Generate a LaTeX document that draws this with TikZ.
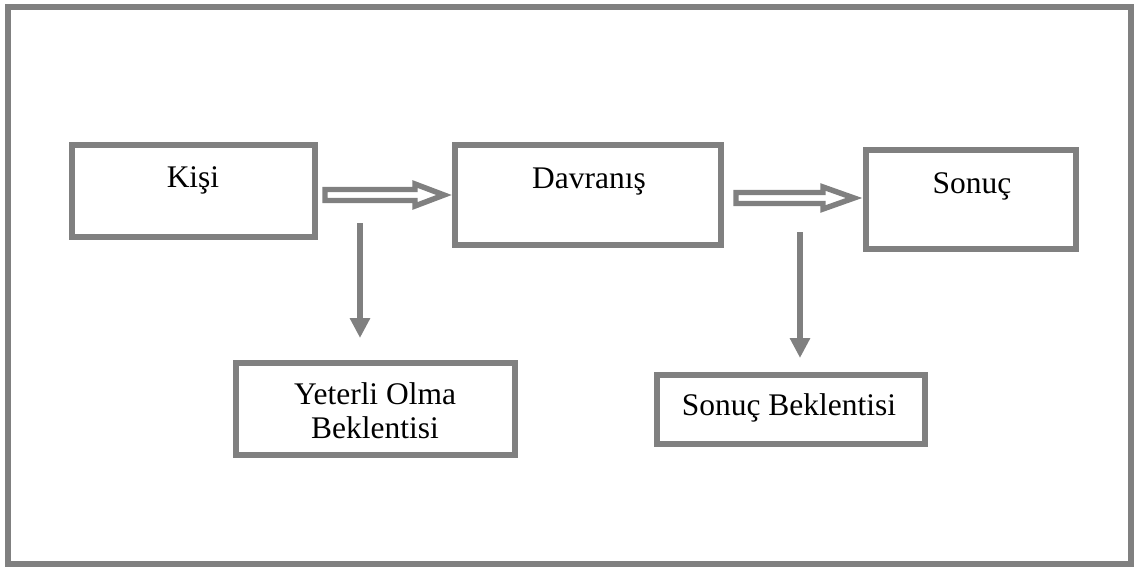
\documentclass[tikz,border=0pt]{standalone}
\usepackage{fontspec}
\setmainfont{Liberation Serif}
\usetikzlibrary{arrows.meta}
\definecolor{linegray}{RGB}{128,128,128}
\begin{document}
\begin{tikzpicture}[x=0.75pt,y=-0.75pt,
  box/.style={draw=linegray,line width=4.5pt,fill=white,inner sep=0pt},
  txt/.style={font=\fontsize{23.6pt}{25.5pt}\selectfont,inner sep=0pt,anchor=base,align=center},
  hollow/.style={draw=linegray,line width=4.1pt,fill=white,line join=miter},
  droparrow/.style={draw=linegray,line width=5pt,-{Triangle[length=15pt,width=14.5pt]}}]
  \useasboundingbox (0,0) rectangle (1134,567);
  % outer frame
  \draw[linegray,line width=4.5pt] (8,7) rectangle (1131,564);

  % boxes
  \node[box,minimum width=182.3pt,minimum height=69pt] (kisi) at (193.5,191) {};
  \node[box,minimum width=200pt,minimum height=74.3pt] (davranis) at (588,195) {};
  \node[box,minimum width=157.5pt,minimum height=74.3pt] (sonuc) at (971,199.5) {};
  \node[box,minimum width=209.3pt,minimum height=69pt] (yeterli) at (375.5,409) {};
  \node[box,minimum width=201pt,minimum height=51.8pt] (sonucb) at (791,409.5) {};

  % labels (a two-line label sits on the baseline of its last line)
  \node[txt] (tkisi) at (193,187) {Kişi};
  \node[txt] (tdavranis) at (589,188) {Davranış};
  \node[txt] (tsonuc) at (972,193) {Sonuç};
  \node[txt] (tyeterli) at (375,438) {Yeterli Olma\\Beklentisi};
  \node[txt] (tsonucb) at (789,415) {Sonuç Beklentisi};

  % hollow arrows between the main boxes
  \draw[hollow] (325,189.5) -- (415,189.5) -- (415,184) -- (444,195)
    -- (415,206) -- (415,200.5) -- (325,200.5) -- cycle;
  \draw[hollow] (736,192.5) -- (823,192.5) -- (823,187) -- (854,198)
    -- (823,209) -- (823,203.5) -- (736,203.5) -- cycle;

  % downward arrows to the expectations
  \coordinate (d1s) at (360,223);
  \coordinate (d1e) at (360,338);
  \coordinate (d2s) at (800,232);
  \coordinate (d2e) at (800,358);
  \draw[droparrow] (d1s) -- (d1e);
  \draw[droparrow] (d2s) -- (d2e);
\end{tikzpicture}
\end{document}
